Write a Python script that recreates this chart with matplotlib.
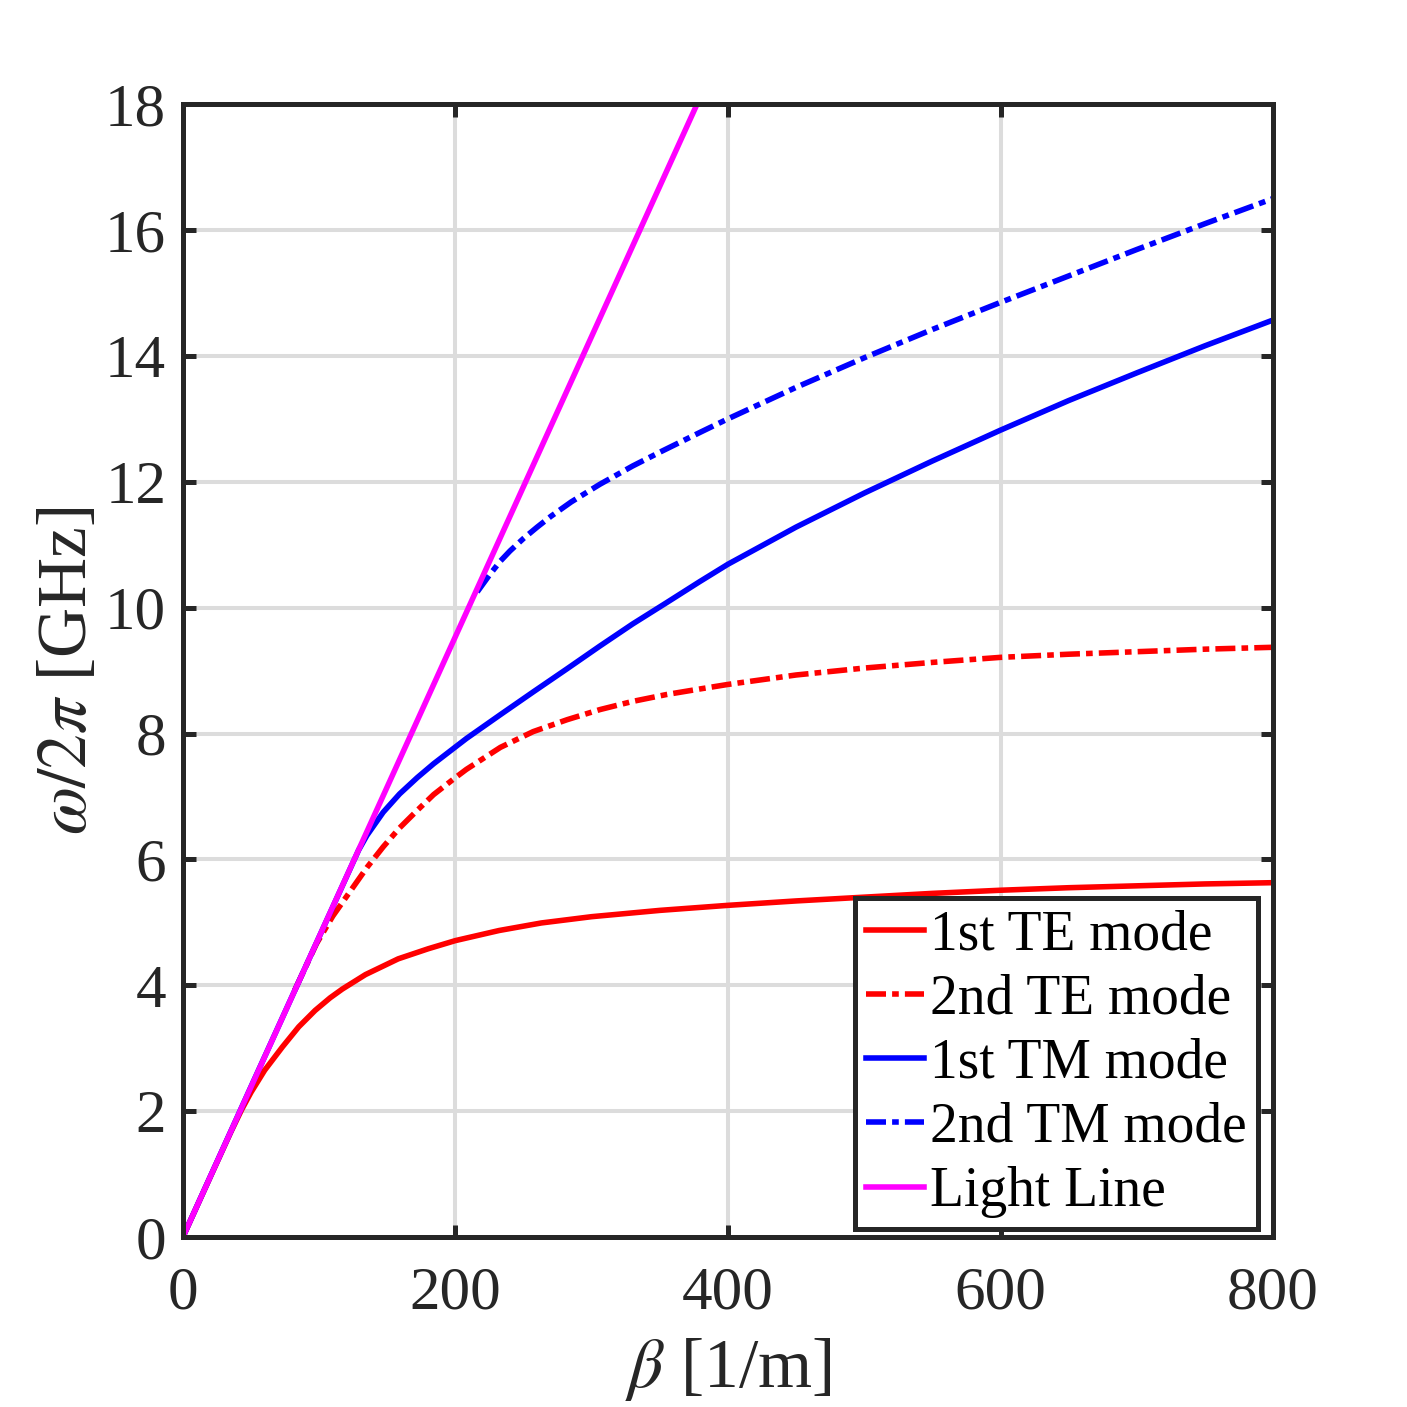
import matplotlib
matplotlib.use('Agg')
import matplotlib.pyplot as plt

# dispersion curves
beta_te1 = [0, 20, 35, 43, 50, 60, 73, 85, 97, 108, 117, 134, 158, 180, 200, 232, 263,
            300, 350, 400, 450, 500, 550, 600, 650, 700, 750, 800]
freq_te1 = [0, 0.95, 1.66, 2.02, 2.3, 2.65, 3.02, 3.34, 3.6, 3.8, 3.94, 4.17, 4.42,
            4.58, 4.71, 4.87, 4.99, 5.09, 5.19, 5.27, 5.34, 5.4, 5.46, 5.51, 5.55,
            5.58, 5.61, 5.63]

beta_te2 = [82, 90, 98, 110, 123, 135, 147, 159, 172, 184, 200, 208, 233, 257, 282,
            306, 330, 355, 380, 400, 450, 500, 550, 600, 650, 700, 750, 800]
freq_te2 = [3.92, 4.29, 4.66, 5.1, 5.5, 5.87, 6.2, 6.5, 6.78, 7.03, 7.3, 7.43, 7.78,
            8.03, 8.22, 8.38, 8.51, 8.62, 8.71, 8.78, 8.93, 9.04, 9.13, 9.21, 9.26, 9.3,
            9.34, 9.37]

beta_tm1 = [0, 50, 100, 129, 135, 147, 159, 172, 184, 208, 233, 257, 282, 306, 330,
            355, 379, 400, 450, 500, 550, 600, 650, 700, 750, 800]
freq_tm1 = [0, 2.39, 4.77, 6.15, 6.38, 6.75, 7.04, 7.3, 7.52, 7.92, 8.3, 8.66, 9.03,
            9.39, 9.74, 10.08, 10.41, 10.69, 11.28, 11.82, 12.33, 12.82, 13.29, 13.73,
            14.16, 14.57]

beta_tm2 = [216, 225, 233, 240, 250, 260, 270, 285, 306, 330, 350, 380, 400, 450, 500,
            550, 600, 650, 700, 750, 800]
freq_tm2 = [10.25, 10.52, 10.74, 10.9, 11.1, 11.28, 11.45, 11.68, 11.96, 12.25, 12.47,
            12.79, 13.0, 13.5, 13.97, 14.42, 14.85, 15.27, 15.69, 16.1, 16.5]

beta_light = [0, 377.3]
freq_light = [0, 18]

labels = ['1st TE mode', '2nd TE mode', '1st TM mode', '2nd TM mode', 'Light Line']

plt.rcParams['font.family'] = ['Liberation Serif', 'DejaVu Serif']
plt.rcParams['mathtext.fontset'] = 'stix'

dark = '#262626'
lw = 4.0
dashdot = (0, (3.6, 1.1, 1.2, 1.1))

fig = plt.figure(figsize=(14.07, 14.07), dpi=100)
ax = fig.add_axes([0.130, 0.1208, 0.7748, 0.8052])

ax.plot(beta_te1, freq_te1, color='#ff0000', lw=lw, label=labels[0])
ax.plot(beta_te2, freq_te2, color='#ff0000', lw=lw, ls=dashdot, label=labels[1])
ax.plot(beta_tm1, freq_tm1, color='#0000ff', lw=lw, label=labels[2])
ax.plot(beta_tm2, freq_tm2, color='#0000ff', lw=lw, ls=dashdot, label=labels[3])
ax.plot(beta_light, freq_light, color='#ff00ff', lw=lw, label=labels[4])

ax.set_xlim(0, 800)
ax.set_ylim(0, 18)
ax.set_xticks([0, 200, 400, 600, 800])
ax.set_yticks(range(0, 19, 2))
ax.grid(True, color='#dcdcdc', lw=2.9)
ax.set_axisbelow(True)

for s in ax.spines.values():
    s.set_linewidth(3.6)
    s.set_color(dark)
ax.tick_params(direction='in', length=9, width=3.6, color=dark, labelsize=44,
               labelcolor=dark, top=True, right=True, pad=12)
ax.tick_params(axis='x', pad=21)

ax.set_xlabel(r'$\beta$ [1/m]', fontsize=50, color=dark, labelpad=10)
ax.set_ylabel(r'$\omega/2\pi$ [GHz]', fontsize=50, color=dark, labelpad=3)

leg = ax.legend(loc='lower right', bbox_to_anchor=(0.986, 0.007), fontsize=40,
                handlelength=1.05, handletextpad=0.1, labelspacing=0.22,
                borderpad=0.2, borderaxespad=0, fancybox=False, framealpha=1)
leg.get_frame().set_edgecolor(dark)
leg.get_frame().set_linewidth(3.6)

fig.savefig('out.png', dpi=100)
